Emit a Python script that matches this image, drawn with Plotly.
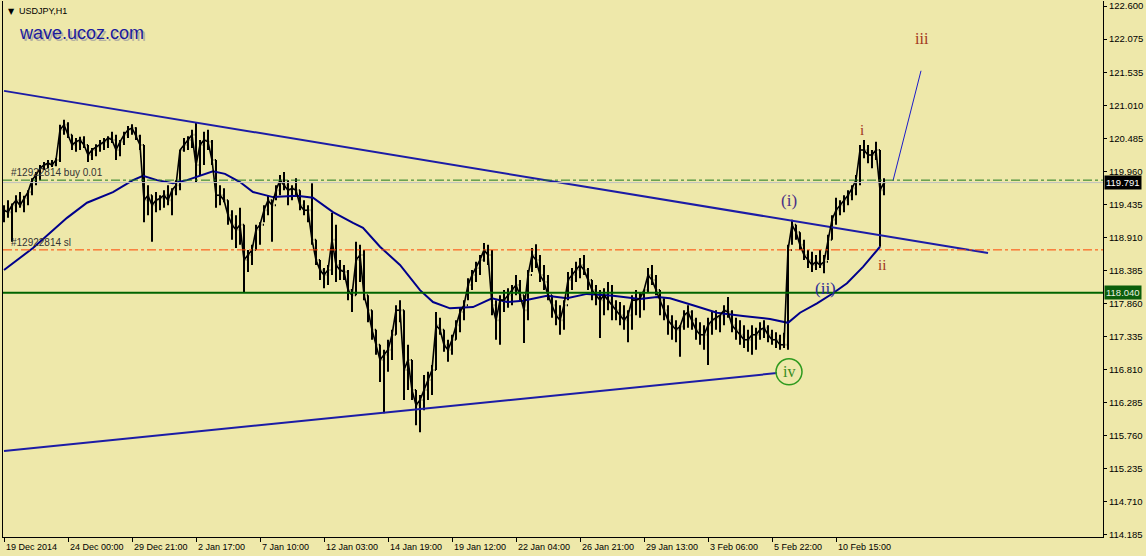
import plotly.graph_objects as go

# ---------------- data (USDJPY, 4-hour aggregated from H1 chart) ----------------
hi = [119.43, 119.51, 119.46, 119.59, 119.64, 119.58, 119.67, 119.86, 119.96, 120.07,
      120.12, 120.15, 120.15, 120.18, 120.71, 120.79, 120.75, 120.55, 120.50, 120.52,
      120.53, 120.39, 120.34, 120.40, 120.47, 120.50, 120.53, 120.60, 120.55, 120.47,
      120.60, 120.69, 120.72, 120.67, 120.55, 120.39, 119.75, 119.59, 119.64, 119.59,
      119.67, 119.75, 119.70, 119.83, 120.31, 120.50, 120.53, 120.63, 120.74, 120.47,
      120.60, 120.63, 120.47, 120.15, 119.75, 119.70, 119.51, 119.35, 119.27, 119.39,
      119.12, 118.72, 118.80, 119.12, 119.16, 119.43, 119.59, 119.51, 119.75, 119.91,
      119.96, 119.83, 119.75, 119.86, 119.67, 119.51, 119.43, 119.78, 118.88, 118.56,
      118.43, 118.48, 119.31, 119.12, 118.56, 118.48, 118.40, 118.08, 118.85, 118.80,
      118.72, 118.00, 117.76, 117.45, 117.21, 117.13, 117.29, 117.45, 117.84, 117.92,
      117.76, 117.21, 116.97, 116.49, 116.41, 116.73, 116.78, 116.89, 117.73, 117.64,
      117.45, 117.29, 117.37, 117.60, 117.80, 117.92, 118.27, 118.40, 118.53, 118.64,
      118.83, 118.80, 118.72, 117.92, 118.00, 118.08, 118.11, 118.16, 118.32, 118.24,
      118.00, 118.40, 118.75, 118.81, 118.64, 118.48, 118.32, 118.00, 117.92, 117.84,
      117.92, 118.37, 118.43, 118.53, 118.59, 118.64, 118.43, 118.24, 118.16, 118.08,
      118.11, 118.21, 118.16, 117.92, 117.89, 117.84, 117.76, 118.00, 118.08, 118.05,
      118.08, 118.43, 118.48, 118.32, 118.08, 117.95, 117.84, 117.68, 117.60, 117.52,
      117.76, 117.84, 117.76, 117.64, 117.57, 117.52, 117.64, 117.73, 117.76, 117.68,
      117.84, 117.97, 117.76, 117.64, 117.60, 117.52, 117.45, 117.52, 117.48, 117.57,
      117.60, 117.52, 117.45, 117.41, 117.37, 117.40, 118.80, 119.20, 119.12, 119.00,
      118.88, 118.72, 118.69, 118.64, 118.72, 118.64, 118.96, 119.27, 119.55, 119.51,
      119.59, 119.67, 119.75, 119.91, 120.39, 120.47, 120.39, 120.31, 120.44, 120.31,
      119.86]
lo = [119.16, 119.23, 118.85, 119.32, 119.39, 119.32, 119.43, 119.59, 119.75, 119.83,
      119.99, 120.02, 120.04, 120.05, 120.12, 120.55, 120.50, 120.31, 120.28, 120.31,
      120.34, 120.12, 120.15, 120.21, 120.28, 120.31, 120.34, 120.42, 120.15, 120.21,
      120.39, 120.50, 120.55, 120.47, 120.31, 119.16, 119.27, 118.85, 119.32, 119.35,
      119.39, 119.43, 119.27, 119.59, 119.67, 120.28, 120.31, 120.34, 119.80, 119.91,
      120.07, 120.31, 120.07, 119.39, 119.43, 119.48, 119.12, 118.88, 118.75, 118.80,
      118.05, 118.37, 118.48, 118.72, 118.80, 119.16, 119.27, 118.85, 119.51, 119.59,
      119.67, 119.43, 119.51, 119.59, 119.35, 119.27, 119.16, 118.80, 118.48, 118.24,
      118.11, 118.16, 118.32, 118.21, 118.24, 118.24, 117.92, 117.73, 118.00, 118.21,
      117.92, 117.57, 117.29, 117.05, 116.62, 116.12, 116.78, 116.97, 117.37, 117.57,
      116.33, 116.49, 116.33, 115.93, 115.82, 116.17, 116.33, 116.41, 116.81, 117.37,
      117.10, 116.94, 117.05, 117.29, 117.41, 117.60, 117.92, 118.08, 118.21, 118.32,
      118.53, 118.48, 117.68, 117.29, 117.21, 117.73, 117.80, 117.84, 118.00, 117.92,
      117.24, 117.60, 118.37, 118.43, 118.21, 118.08, 117.92, 117.64, 117.52, 117.37,
      117.45, 117.92, 118.08, 118.21, 118.27, 118.32, 118.08, 117.92, 117.84, 117.32,
      117.68, 117.76, 117.60, 117.60, 117.52, 117.45, 117.25, 117.45, 117.68, 117.64,
      117.76, 118.05, 118.16, 118.00, 117.68, 117.60, 117.37, 117.29, 117.25, 117.02,
      117.45, 117.48, 117.45, 117.29, 117.21, 117.13, 116.89, 117.37, 117.45, 117.41,
      117.52, 117.64, 117.41, 117.29, 117.21, 117.16, 117.10, 117.05, 117.13, 117.29,
      117.32, 117.25, 117.21, 117.16, 117.13, 117.16, 117.13, 118.80, 118.88, 118.72,
      118.56, 118.43, 118.37, 118.40, 118.43, 118.35, 118.56, 118.88, 119.12, 119.27,
      119.32, 119.43, 119.51, 119.59, 119.75, 120.18, 120.10, 120.02, 120.15, 118.77,
      119.59]
cl = [119.35, 119.32, 119.43, 119.51, 119.43, 119.54, 119.64, 119.83, 119.91, 120.02,
      120.07, 120.10, 120.07, 120.15, 120.63, 120.71, 120.55, 120.39, 120.44, 120.47,
      120.39, 120.23, 120.31, 120.36, 120.40, 120.44, 120.50, 120.47, 120.31, 120.44,
      120.55, 120.63, 120.66, 120.53, 120.39, 119.51, 119.59, 119.43, 119.51, 119.54,
      119.59, 119.51, 119.67, 119.75, 120.31, 120.39, 120.47, 120.55, 120.07, 120.39,
      120.47, 120.44, 120.15, 119.59, 119.59, 119.51, 119.27, 119.12, 119.04, 119.12,
      118.56, 118.64, 118.72, 119.04, 119.12, 119.35, 119.51, 119.43, 119.67, 119.83,
      119.75, 119.67, 119.70, 119.67, 119.43, 119.35, 119.35, 118.88, 118.56, 118.40,
      118.32, 118.40, 118.88, 118.48, 118.40, 118.37, 118.08, 118.00, 118.56, 118.64,
      118.00, 117.76, 117.45, 117.21, 116.97, 117.05, 117.13, 117.37, 117.76, 117.76,
      116.81, 116.97, 116.49, 116.25, 116.33, 116.49, 116.65, 116.81, 117.52, 117.45,
      117.21, 117.13, 117.29, 117.52, 117.73, 117.84, 118.16, 118.32, 118.43, 118.56,
      118.72, 118.64, 117.84, 117.60, 117.92, 117.92, 118.00, 118.08, 118.16, 118.00,
      117.76, 118.32, 118.64, 118.56, 118.32, 118.21, 118.00, 117.84, 117.68, 117.60,
      117.84, 118.24, 118.32, 118.40, 118.48, 118.40, 118.24, 118.08, 118.00, 117.92,
      118.00, 117.92, 117.84, 117.76, 117.68, 117.60, 117.68, 117.92, 117.92, 117.95,
      118.08, 118.32, 118.24, 118.08, 117.92, 117.76, 117.60, 117.52, 117.45, 117.50,
      117.68, 117.73, 117.60, 117.45, 117.37, 117.37, 117.52, 117.60, 117.64, 117.68,
      117.76, 117.73, 117.52, 117.45, 117.37, 117.29, 117.29, 117.37, 117.37, 117.45,
      117.48, 117.37, 117.29, 117.29, 117.21, 117.21, 118.72, 119.12, 119.00, 118.80,
      118.64, 118.56, 118.48, 118.53, 118.48, 118.53, 118.88, 119.20, 119.35, 119.43,
      119.51, 119.59, 119.70, 119.83, 120.31, 120.31, 120.23, 120.23, 120.31, 119.67,
      119.79]
op = [cl[0]] + cl[:-1]
bar_idx = list(range(len(hi)))

# moving average
ma_x = [0, 7.25, 15.75, 20.75, 27.25, 32.25, 34.75, 38.25, 42.25, 45.75, 52.25, 55.25,
        59, 62.25, 67.25, 73.25, 77.25, 82.25, 87.25, 89.75, 94, 99, 104, 107.25, 111.5,
        117.25, 122, 125.75, 129.75, 135.75, 140.75, 145.75, 152.25, 159, 163.25, 166.5,
        172.25, 178.25, 184.75, 191.5, 196, 199, 203.25, 207.25, 210.75, 214.75, 219]
ma_y = [118.40, 118.75, 119.23, 119.47, 119.64, 119.83, 119.90, 119.83, 119.78, 119.83,
        119.97, 119.93, 119.80, 119.64, 119.56, 119.58, 119.55, 119.32, 119.15, 119.07,
        118.77, 118.48, 118.08, 117.89, 117.79, 117.81, 117.95, 117.89, 117.91, 117.99,
        117.95, 118.02, 117.99, 117.94, 117.97, 117.95, 117.84, 117.72, 117.67, 117.62,
        117.56, 117.72, 117.87, 118.03, 118.19, 118.45, 118.77]

# trend lines and projection
upper_x, upper_y = [0, 246], [121.25, 118.67]
lower_x, lower_y = [0, 193.25], [115.52, 116.76]
proj_x, proj_y = [222.25, 229.25], [119.82, 121.57]

# horizontal levels
level_support = 118.040
bid_price = 119.791
buy_price = 119.83
sl_price = 118.72

# axis labels
time_tick_idx = [0, 16, 32, 48, 64, 80, 96, 112, 128, 144, 160, 176, 192, 208]
time_labels = ["19 Dec 2014", "24 Dec 00:00", "29 Dec 21:00", "2 Jan 17:00", "7 Jan 10:00",
               "12 Jan 03:00", "14 Jan 19:00", "19 Jan 12:00", "22 Jan 04:00",
               "26 Jan 21:00", "29 Jan 13:00", "3 Feb 06:00", "5 Feb 22:00", "10 Feb 15:00"]
price_ticks = [122.600, 122.075, 121.535, 121.010, 120.485, 119.960, 119.435, 118.910,
               118.385, 117.860, 117.335, 116.810, 116.285, 115.760, 115.235, 114.710, 114.185]

# wave labels
wave_text = ["iii", "i", "ii", "(i)", "(ii)", "iv"]
wave_x = [229.5, 214.5, 219.5, 196.25, 205.25, 196.25]
wave_y = [122.09, 120.63, 118.48, 119.50, 118.10, 116.78]

BG = "#EEE8AA"
fig = go.Figure()

fig.add_trace(go.Scatter(x=ma_x, y=ma_y, mode="lines",
                         line=dict(color="#00008B", width=2), hoverinfo="skip"))
fig.add_trace(go.Scatter(x=upper_x, y=upper_y, mode="lines",
                         line=dict(color="#1C1CA6", width=2), hoverinfo="skip"))
fig.add_trace(go.Scatter(x=lower_x, y=lower_y, mode="lines",
                         line=dict(color="#1C1CA6", width=2), hoverinfo="skip"))
fig.add_trace(go.Scatter(x=proj_x, y=proj_y, mode="lines",
                         line=dict(color="#1C1CC8", width=1), hoverinfo="skip"))

# close path (makes the dense bar series look continuous)
fig.add_trace(go.Scatter(x=bar_idx, y=cl, mode="lines",
                         line=dict(color="black", width=1.6), hoverinfo="skip"))
fig.add_trace(go.Ohlc(x=bar_idx, open=op, high=hi, low=lo, close=cl,
                      increasing=dict(line=dict(color="black", width=2)),
                      decreasing=dict(line=dict(color="black", width=2)),
                      tickwidth=0.3))

# iv circle
fig.add_trace(go.Scatter(x=[wave_x[5]], y=[wave_y[5]], mode="markers",
                         marker=dict(symbol="circle-open", size=26,
                                     line=dict(color="#2E9A1E", width=1.5), color="#2E9A1E"),
                         hoverinfo="skip"))

shapes = [
    dict(type="line", xref="paper", x0=0, x1=1, y0=bid_price, y1=bid_price,
         line=dict(color="#C0C0C0", width=1)),
    dict(type="line", xref="paper", x0=0, x1=1, y0=buy_price, y1=buy_price,
         line=dict(color="#1E7A1E", width=1, dash="dashdot")),
    dict(type="line", xref="paper", x0=0, x1=1, y0=sl_price, y1=sl_price,
         line=dict(color="#FF4500", width=1, dash="dashdot")),
    dict(type="line", xref="paper", x0=0, x1=1, y0=level_support, y1=level_support,
         line=dict(color="#006400", width=2)),
]

ann = []
for t, xi in zip(time_labels, time_tick_idx):
    ann.append(dict(x=xi, y=0, xref="x", yref="paper", text=t, showarrow=False,
                    xanchor="left", yanchor="top", xshift=0, yshift=-3,
                    font=dict(family="Liberation Sans", size=9, color="black")))

wave_colors = ["#A2341A", "#A2341A", "#A2341A", "#4A2E86", "#2A2A96", "#3A8C1E"]
wave_sizes = [16, 15, 15, 17, 17, 16]
for t, xx, yy, c, s in zip(wave_text, wave_x, wave_y, wave_colors, wave_sizes):
    ann.append(dict(x=xx, y=yy, xref="x", yref="y", text=t, showarrow=False,
                    font=dict(family="Liberation Serif", size=s, color=c)))

# price tags on right axis
ann.append(dict(x=1, y=bid_price, xref="paper", yref="y", text="119.791", showarrow=False,
                xanchor="left", xshift=1, bgcolor="black", borderpad=1,
                font=dict(family="Liberation Sans", size=9.5, color="white")))
ann.append(dict(x=1, y=level_support, xref="paper", yref="y", text="118.040", showarrow=False,
                xanchor="left", xshift=1, bgcolor="#0B5E0B", borderpad=1,
                font=dict(family="Liberation Sans", size=9.5, color="#E8F0E0")))

# order texts
ann.append(dict(x=0, y=buy_price, xref="paper", yref="y", text="#12922814 buy 0.01",
                showarrow=False, xanchor="left", yanchor="bottom", xshift=6, yshift=0,
                font=dict(family="Liberation Sans", size=10, color="#333333")))
ann.append(dict(x=0, y=sl_price, xref="paper", yref="y", text="#12922814 sl",
                showarrow=False, xanchor="left", yanchor="bottom", xshift=6, yshift=0,
                font=dict(family="Liberation Sans", size=10, color="#333333")))

# header texts
ann.append(dict(x=0, y=1, xref="paper", yref="paper", text="▼", showarrow=False,
                xanchor="left", yanchor="top", xshift=3, yshift=-4,
                font=dict(family="DejaVu Sans", size=8, color="black")))
ann.append(dict(x=0, y=1, xref="paper", yref="paper", text="USDJPY,H1", showarrow=False,
                xanchor="left", yanchor="top", xshift=14, yshift=-3,
                font=dict(family="Liberation Sans", size=9, color="black")))
ann.append(dict(x=0, y=1, xref="paper", yref="paper", text="wave.ucoz.com", showarrow=False,
                xanchor="left", yanchor="top", xshift=16, yshift=-22,
                font=dict(family="Liberation Sans", size=18, color="#B4B0A0")))
ann.append(dict(x=0, y=1, xref="paper", yref="paper", text="wave.ucoz.com", showarrow=False,
                xanchor="left", yanchor="top", xshift=14, yshift=-20,
                font=dict(family="Liberation Sans", size=18, color="#1A1A9E")))

fig.update_layout(
    width=1146, height=556,
    margin=dict(l=3, r=43, t=1, b=19),
    paper_bgcolor=BG, plot_bgcolor=BG,
    showlegend=False,
    shapes=shapes, annotations=ann,
    font=dict(family="Liberation Sans", size=9.5, color="black"),
    xaxis=dict(range=[-0.25, 274.75], showgrid=False, zeroline=False,
               showline=True, linecolor="black", linewidth=1,
               tickvals=time_tick_idx, ticks="outside", ticklen=4, tickcolor="black",
               showticklabels=False, rangeslider=dict(visible=False)),
    yaxis=dict(range=[114.152, 122.680], side="right", showgrid=False, zeroline=False,
               showline=True, mirror=True, linecolor="black", linewidth=1,
               tickvals=price_ticks, ticktext=[f"{v:.3f}" for v in price_ticks],
               ticks="outside", ticklen=3, tickcolor="black",
               tickfont=dict(family="Liberation Sans", size=9.5, color="black")),
)

fig.write_html("out.html", config={"displayModeBar": False},
               post_script="document.body.style.margin='0';document.body.style.overflow='hidden';")
